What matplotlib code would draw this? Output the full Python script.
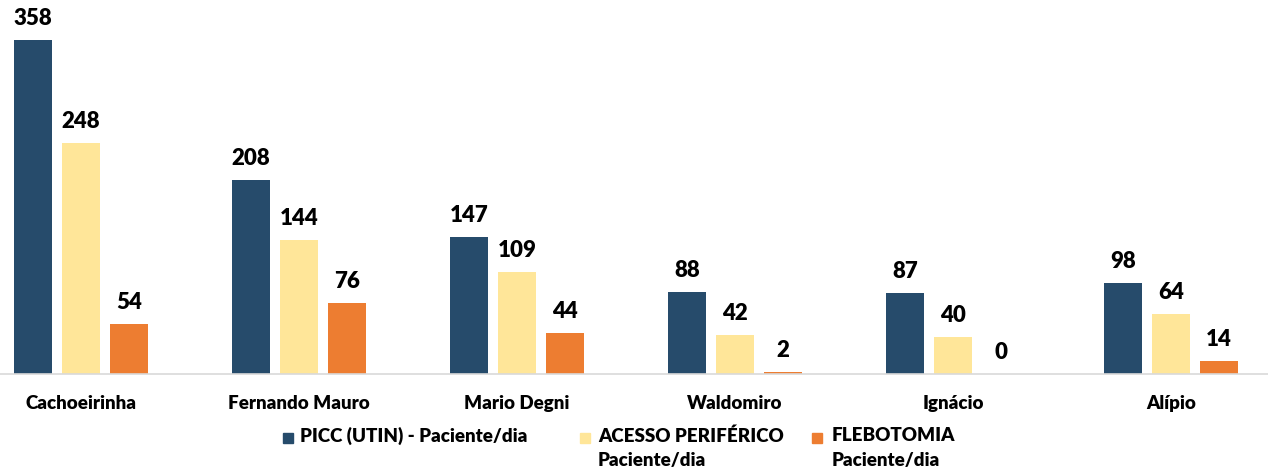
import matplotlib.pyplot as plt
from matplotlib.patches import Rectangle
import numpy as np

plt.rcParams['font.family'] = ['Lato', 'DejaVu Sans']

# data
hospitals = ["Cachoeirinha", "Fernando Mauro", "Mario Degni", "Waldomiro", "Ignácio", "Alípio"]
picc = [358, 208, 147, 88, 87, 98]
acesso = [248, 144, 109, 42, 40, 64]
flebotomia = [54, 76, 44, 2, 0, 14]

series_labels = ["PICC (UTIN) - Paciente/dia", "ACESSO PERIFÉRICO\nPaciente/dia", "FLEBOTOMIA\nPaciente/dia"]
colors = ["#264B6B", "#FFE699", "#ED7D31"]

fig = plt.figure(figsize=(12.68, 4.73), dpi=100)
ax = fig.add_axes([0, 0.209, 1, 0.791])

x = np.arange(len(hospitals))
width = 0.172
step = 0.22

for i, (vals, col) in enumerate(zip([picc, acesso, flebotomia], colors)):
    bars = ax.bar(x + (i - 1) * step, vals, width, color=col, zorder=2)
    for b, v in zip(bars, vals):
        ax.annotate(str(v), (b.get_x() + b.get_width() / 2, v),
                    xytext=(0, 8), textcoords="offset points",
                    ha="center", va="bottom", fontsize=16, fontweight="heavy")

ax.set_xlim(-0.372, 5.445)
ax.set_ylim(0, 400.8)
ax.set_xticks(x)
ax.set_xticklabels(hospitals, fontsize=13.5, fontweight="heavy")
ax.tick_params(axis="x", length=0, pad=15)
ax.set_yticks([])
for s in ["top", "left", "right"]:
    ax.spines[s].set_visible(False)
ax.spines["bottom"].set_color("#D9D9D9")
ax.spines["bottom"].set_linewidth(1.2)

# legend drawn by hand so the swatch sits on the first text line
fig_w, fig_h = 1268, 473
legend_items = [(283, 300), (580, 598), (812, 832)]
for (sx, tx), lab, col in zip(legend_items, series_labels, colors):
    fig.patches.append(Rectangle((sx / fig_w, 1 - 443 / fig_h), 10 / fig_w, 10 / fig_h,
                                 transform=fig.transFigure, color=col))
    fig.text(tx / fig_w, 1 - 427 / fig_h, lab, fontsize=13.5, fontweight="heavy",
             ha="left", va="top", linespacing=1.55)

fig.savefig("out.png", dpi=100)
